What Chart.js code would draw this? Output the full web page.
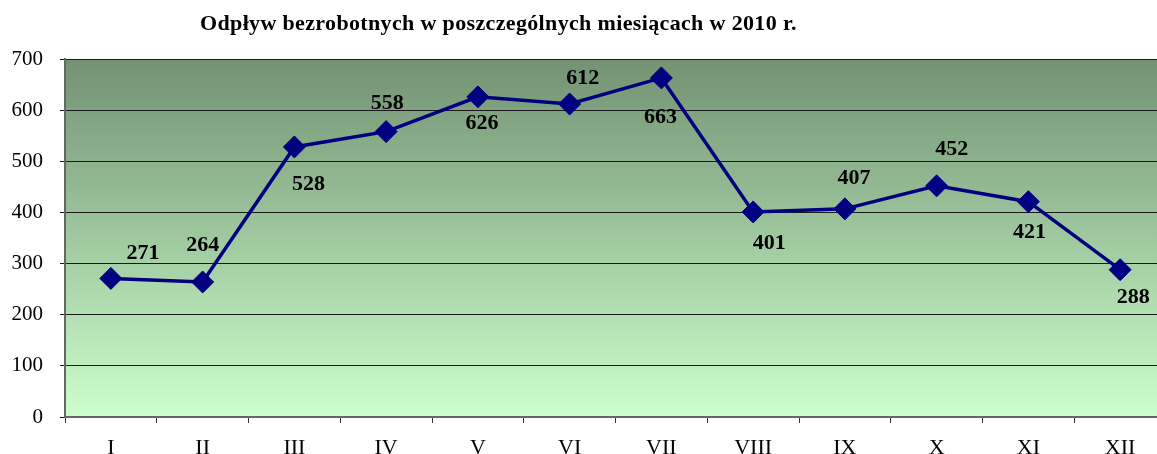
<!DOCTYPE html>
<html lang="pl">

<head>
    <meta charset="UTF-8">
    <title>Odpływ bezrobotnych w 2010 r.</title>
    <script src="https://cdn.jsdelivr.net/npm/chart.js"></script>
    <style>
        html, body {
            margin: 0;
            padding: 0;
            background: #fff;
            overflow: hidden;
        }

        .wrap {
            position: relative;
            width: 1157px;
            height: 454px;
            overflow: hidden;
        }

        .title {
            position: absolute;
            left: 200px;
            top: 10px;
            margin: 0;
            font-family: "Liberation Serif", "Times New Roman", serif;
            font-weight: bold;
            font-size: 22px;
            letter-spacing: 0.35px;
            line-height: 26px;
            white-space: nowrap;
            color: #000;
        }

        canvas {
            position: absolute;
            left: 0;
            top: 0;
        }
    </style>
</head>

<body>
    <div class="wrap">
        <canvas id="chart" width="1166" height="470"></canvas>
        <h1 class="title">Odpływ bezrobotnych w poszczególnych miesiącach w 2010 r.</h1>
    </div>

    <script>
        // data
        const months = ["I", "II", "III", "IV", "V", "VI", "VII", "VIII", "IX", "X", "XI", "XII"];
        const outflow = [271, 264, 528, 558, 626, 612, 663, 401, 407, 452, 421, 288];
        const yTicks = [0, 100, 200, 300, 400, 500, 600, 700];

        // where each value label sits relative to its point (px)
        const labelDx = [32, 0, 14, 1, 4, 13, -1, 16, 9, 15, 1, 13];
        const labelDy = [-25, -37, 37, -28, 26, -26, 39, 31, -31, -37, 31, 28];

        const serif = '"Liberation Serif", "Times New Roman", serif';

        // green gradient behind the plot
        const plotBackground = {
            id: "plotBackground",
            beforeDraw(chart) {
                const { ctx, chartArea: a } = chart;
                const g = ctx.createLinearGradient(0, a.top, 0, a.bottom);
                g.addColorStop(0, "#739273");
                g.addColorStop(1, "#ccffcc");
                ctx.save();
                ctx.fillStyle = g;
                ctx.fillRect(a.left, a.top, a.right - a.left, a.bottom - a.top);
                ctx.restore();
            }
        };

        // bold numbers next to the markers
        const valueLabels = {
            id: "valueLabels",
            afterDatasetsDraw(chart) {
                const ctx = chart.ctx;
                const meta = chart.getDatasetMeta(0);
                ctx.save();
                ctx.font = "bold 22px " + serif;
                ctx.fillStyle = "#000";
                ctx.textAlign = "center";
                ctx.textBaseline = "middle";
                meta.data.forEach((pt, i) => {
                    ctx.fillText(String(outflow[i]), pt.x + labelDx[i], pt.y + labelDy[i]);
                });
                ctx.restore();
            }
        };

        new Chart(document.getElementById("chart"), {
            type: "line",
            data: {
                labels: months,
                datasets: [{
                    data: outflow,
                    borderColor: "#000080",
                    borderWidth: 3.5,
                    tension: 0,
                    pointStyle: "rectRot",
                    pointRadius: 11,
                    pointHoverRadius: 11,
                    pointBackgroundColor: "#000080",
                    pointBorderColor: "#000080",
                    pointBorderWidth: 1
                }]
            },
            options: {
                responsive: false,
                animation: false,
                events: [],
                layout: { autoPadding: false, padding: { top: 59, left: 0, right: 0, bottom: 0 } },
                plugins: {
                    legend: { display: false },
                    title: { display: false },
                    tooltip: { enabled: false }
                },
                scales: {
                    x: {
                        offset: true,
                        grid: {
                            offset: true,
                            drawOnChartArea: false,
                            drawTicks: true,
                            tickLength: 6,
                            color: "#333"
                        },
                        border: { color: "#666", width: 2 },
                        ticks: {
                            color: "#000",
                            padding: 12,
                            maxRotation: 0,
                            autoSkip: false,
                            font: { family: serif, size: 22 }
                        },
                        afterFit(scale) {
                            scale.height = 53;
                            scale.paddingLeft = 0;
                            scale.paddingRight = 0;
                        }
                    },
                    y: {
                        min: 0,
                        max: 700,
                        afterBuildTicks(scale) {
                            scale.ticks = yTicks.map(v => ({ value: v }));
                        },
                        grid: {
                            color: "#1a1a1a",
                            lineWidth: 1,
                            tickLength: 5,
                            drawTicks: true
                        },
                        border: { color: "#666", width: 2 },
                        ticks: {
                            color: "#000",
                            padding: 17,
                            font: { family: serif, size: 21 }
                        },
                        afterFit(scale) { scale.width = 65; }
                    }
                }
            },
            plugins: [plotBackground, valueLabels]
        });
    </script>
</body>

</html>
